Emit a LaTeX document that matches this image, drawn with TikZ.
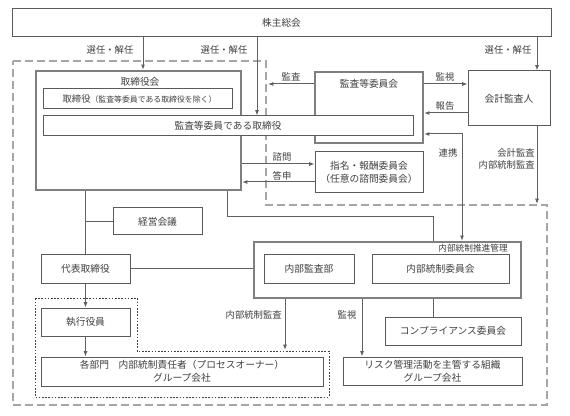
\documentclass[tikz,border=0pt]{standalone}
\usepackage{fontspec}
\setmainfont{Noto Sans CJK JP}
\usetikzlibrary{arrows.meta}
\definecolor{ink}{HTML}{404040}
\definecolor{frame}{HTML}{5A5A5A}
\definecolor{heavy}{HTML}{7F7F7F}
\definecolor{wire}{HTML}{606060}
\definecolor{zone}{HTML}{A6A6A6}
\tikzset{
  pw/.style = {minimum width=#1*0.75pt},
  ph/.style = {minimum height=#1*0.75pt},
  box/.style = {draw=frame, line width=0.75pt, fill=white, text=ink,
    font=\fontsize{7.3}{9.5}\selectfont, inner sep=0pt, align=center},
  heavybox/.style = {box, draw=heavy, line width=1.7pt},
  caption/.style = {text=ink, font=\fontsize{7}{9.5}\selectfont, inner sep=0pt},
  wire/.style = {draw=wire, line width=0.75pt},
  arr/.style = {wire, -{Latex[length=4pt,width=3pt]}},
  zoneline/.style = {draw=zone, line width=0.9pt, dash pattern=on 6pt off 3pt},
  grpline/.style = {draw=ink, line width=0.75pt, dash pattern=on 1.2pt off 1.2pt}
}

\begin{document}
\begin{tikzpicture}[x=0.75pt,y=-0.75pt]
  \useasboundingbox[fill=white] (0,0) rectangle (570,416);
  \draw[zoneline] (13,61) -- (266,61) -- (266,205) -- (547,205) -- (547,405) -- (13,405) -- cycle;
  \draw[grpline] (35,298) -- (137,298) -- (137,351) -- (329,351) -- (329,397) -- (35,397) -- cycle;

  \node[box, pw=539, ph=28] (sh) at (281.5,23) {株主総会};
  \node[heavybox, pw=108, ph=71] (audit) at (369,107.5) {};
  \node[caption, font=\fontsize{7.3}{9}\selectfont] (auditt) at (369,84) {監査等委員会};
  \node[heavybox, pw=205, ph=119] (board) at (138.5,130.5) {};
  \node[caption, font=\fontsize{7.3}{9}\selectfont] (boardt) at (140,82) {取締役会};
  \node[box, pw=189, ph=20] (dir) at (137.5,99) {};
  \node[caption] (dirt) at (139.5,99)
    {取締役{\fontsize{5.9}{6.5}\selectfont （監査等委員である取締役を除く）}};
  \node[box, pw=370, ph=20] (acdir) at (228,126) {監査等委員である取締役};
  \node[box, pw=82, ph=55] (auditor) at (509,98.5) {会計監査人};
  \node[box, pw=108, ph=41] (nom) at (369,172.5) {指名・報酬委員会\\（任意の諮問委員会）};
  \node[box, pw=89, ph=27] (mgmt) at (157.5,221.5) {経営会議};
  \node[box, pw=89, ph=28] (rep) at (85.5,269) {代表取締役};
  \node[heavybox, pw=267, ph=56] (ctrl) at (387.5,270) {};
  \node[caption, font=\fontsize{6.5}{8}\selectfont] (ctrlt) at (473,248) {内部統制推進管理};
  \node[box, pw=90, ph=28] (iaudit) at (309,269) {内部監査部};
  \node[box, pw=137, ph=28] (icom) at (440.5,269) {内部統制委員会};
  \node[box, pw=89, ph=28] (exe) at (85.5,322) {執行役員};
  \node[box, pw=282, ph=29] (dept) at (182,371.5) {各部門　内部統制責任者（プロセスオーナー）\\グループ会社};
  \node[box, pw=136, ph=28] (comp) at (453,331) {コンプライアンス委員会};
  \node[box, pw=179, ph=28] (risk) at (432.5,371) {リスク管理活動を主管する組織\\グループ会社};

  \coordinate (zoneleft) at (268,84);
  \coordinate (zonecorner) at (537,204);
  \coordinate (grpedge) at (285,350);

  \draw[arr] (sh.south -| 143,0) -- (board.north -| 143,0);
  \node[caption] (sel1) at (110,50) {選任・解任};
  \draw[arr] (sh.south -| 257,0) -- (acdir.north -| 257,0);
  \node[caption] (sel2) at (224,50) {選任・解任};
  \draw[arr] (sh.south -| 537,0) -- (auditor.north -| 537,0);
  \node[caption] (sel3) at (508,50) {選任・解任};

  \draw[arr] (audit.west |- zoneleft) -- (zoneleft);
  \node[caption] (kansa) at (291,77) {監査};
  \draw[arr] (audit.east |- 0,84) -- (auditor.west |- 0,84);
  \node[caption] (kanshi1) at (445,77) {監視};
  \draw[arr] (auditor.west |- 0,113) -- (audit.east |- 0,113);
  \node[caption] (houkoku) at (445,106) {報告};
  \draw[wire, {Latex[length=4pt,width=3pt]}-{Latex[length=4pt,width=3pt]}]
    (audit.east |- 0,134) -| (ctrl.north -| 462,0);
  \node[caption] (renkei) at (448,153) {連携};
  \draw[arr] (auditor.south -| zonecorner) -- (zonecorner);
  \node[caption, anchor=east, align=right] (kaikei) at (535,159) {会計監査\\内部統制監査};

  \draw[arr] (board.east |- 0,164) -- (nom.west |- 0,164);
  \node[caption] (shimon) at (282,157) {諮問};
  \draw[arr] (nom.west |- 0,182) -- (board.east |- 0,182);
  \node[caption] (toushin) at (282,176) {答申};

  \draw[wire] (board.south -| 227,0) -- ++(0,25) -| (ctrl.north -| 433,0);
  \draw[wire] (board.south -| rep.north) -- (rep.north);
  \draw[wire] (mgmt.west -| rep.north) -- (mgmt.west);
  \draw[wire] (rep.east) -- (rep.east -| ctrl.west);
  \draw[arr] (rep.south) -- (exe.north);
  \draw[arr] (exe.south) -- (exe.south |- dept.north);

  \draw[arr] (ctrl.south -| grpedge) -- (grpedge);
  \node[caption, anchor=east] (naibu) at (282,315) {内部統制監査};
  \draw[arr] (ctrl.south -| 362,0) -- (risk.north -| 362,0);
  \node[caption] (kanshi2) at (347,315) {監視};
  \draw[wire] (ctrl.south -| 433,0) -- (comp.north -| 433,0);
\end{tikzpicture}
\end{document}
